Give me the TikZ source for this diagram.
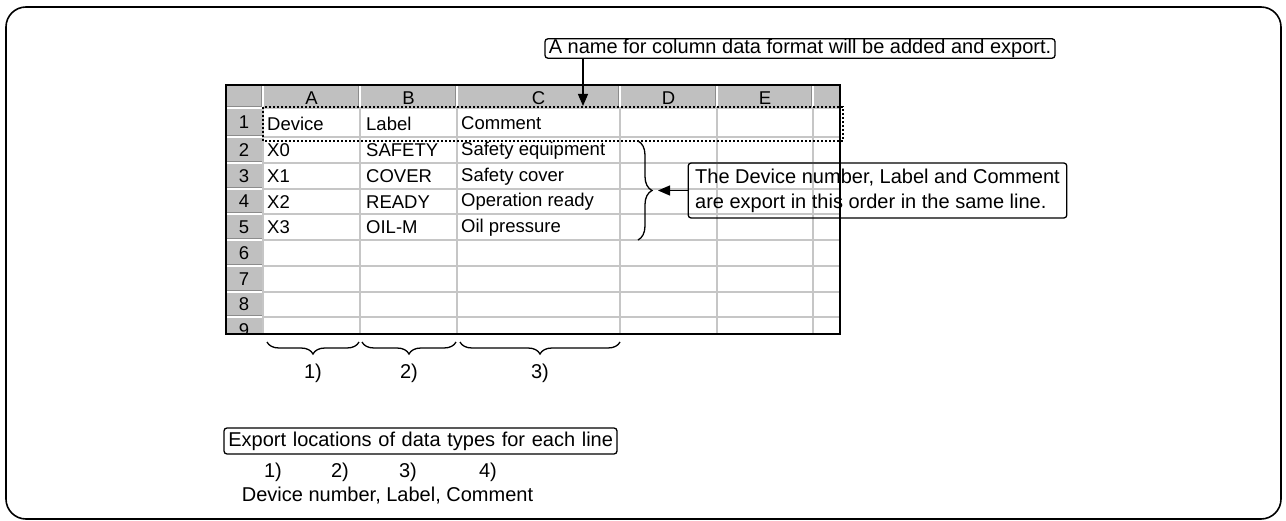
\documentclass[tikz,border=0pt]{standalone}
\usepackage{fontspec}
\setmainfont{Liberation Sans}
\usetikzlibrary{arrows.meta,decorations.pathreplacing}

\definecolor{hdrgray}{HTML}{C0C0C0}
\definecolor{gridgray}{HTML}{C6C6C6}

\tikzset{
  callout/.style={draw, line width=1.3pt, rounded corners=3pt, font=\fontsize{20}{25}\selectfont},
  oneline/.style={text height=14.5pt, text depth=4pt},
  cell/.style={anchor=west, inner sep=0pt, font=\fontsize{18.5}{20}\selectfont},
  hdr/.style={inner sep=0pt, font=\fontsize{18.5}{20}\selectfont},
  plain/.style={inner sep=0pt, font=\fontsize{20}{25}\selectfont},
  pointer/.style={line width=1.3pt, -{Triangle[length=12pt,width=10pt]}},
  underbrace/.style={line width=1.3pt, decorate, decoration={brace,mirror,amplitude=12pt}},
  sidebrace/.style={line width=1.3pt, decorate, decoration={brace,amplitude=14pt}},
  gridline/.style={gridgray, line width=1.5pt},
  dotline/.style={line width=2pt, dash pattern=on 2pt off 2pt},
}

\begin{document}
\begin{tikzpicture}[x=1pt,y=-1pt]
\useasboundingbox (0,0) rectangle (1286,521);
\draw[line width=1.6pt, rounded corners=20pt] (6,7) rectangle (1281,519);

% sheet
\fill[hdrgray] (226,85) rectangle (840,108);
\fill[hdrgray] (226,108) rectangle (263,334);
\foreach \y in {108,137,163,189,214,240,266,292,317}
  \draw[gridline] (263,\y) -- (840,\y);
\foreach \x in {263,360,457,620,717,813}
  \draw[gridline] (\x,108) -- (\x,334);
\foreach \x in {263,360,457,620,717,813} {
  \draw[black!45, line width=1pt] (\x-1.5,86) -- (\x-1.5,107);
  \draw[white, line width=1.2pt] (\x,86) -- (\x,107);
}
\foreach \y in {108,137,163,189,214,240,266,292,317} {
  \draw[black!45, line width=1pt] (227,\y-1.5) -- (262,\y-1.5);
  \draw[white, line width=1.2pt] (227,\y) -- (262,\y);
}
\draw[line width=2pt] (226,85) rectangle (840,334);

\foreach \c/\x in {A/311.5,B/408.5,C/538.5,D/668.5,E/765}
  \node[hdr] (col\c) at (\x,98.5) {\c};
\begin{scope}
  \clip (226,85) rectangle (840,334);
  \foreach \n/\y in {1/122.5,2/150,3/176,4/201.5,5/227,6/253,7/279,8/304.5,9/330}
    \node[hdr] (row\n) at (244,\y) {\n};
\end{scope}
\foreach \y/\a/\b/\c [count=\r] in {123.5/Device/Label/Comment,
    150.5/X0/SAFETY/Safety equipment, 176.5/X1/COVER/Safety cover,
    202/X2/READY/Operation ready, 227.5/X3/OIL-M/Oil pressure} {
  \node[cell] (dev\r) at (267,\y) {\a};
  \node[cell] (lab\r) at (366,\y) {\b};
  \node[cell] (com\r) at (461,\y) {\c};
}
\draw[dotline] (263,107) rectangle (843,141);

% column name callout
\node[callout, oneline, inner xsep=3pt, inner ysep=0.5pt, minimum width=510pt] (namebox) at (800,48.5)
  {A name for column data format will be added and export.};
\coordinate (hdrtip) at (583,106);
\draw[pointer] (hdrtip |- namebox.south) -- (hdrtip);

% line order callout
\coordinate (rowstop) at (638,141);
\coordinate (rowsbot) at (638,240);
\draw[sidebrace] (rowstop) -- (rowsbot);
\node[callout, align=left, inner xsep=7pt, minimum height=55pt] (orderbox) at (877.5,190.5)
  {The Device number, Label and Comment\\are export in this order in the same line.};
\coordinate (bracetip) at (658,190.5);
\draw[pointer] (orderbox.west) -- (bracetip);

% column braces
\coordinate (c1l) at (267,342);
\coordinate (c1r) at (359,342);
\coordinate (c2l) at (362,342);
\coordinate (c2r) at (456,342);
\coordinate (c3l) at (460,342);
\coordinate (c3r) at (620,342);
\draw[underbrace] (c1l) -- (c1r);
\draw[underbrace] (c2l) -- (c2r);
\draw[underbrace] (c3l) -- (c3r);
\node[plain] (grp1) at (313,373) {1)};
\node[plain] (grp2) at (409,373) {2)};
\node[plain] (grp3) at (540,373) {3)};

% export order note
\node[callout, oneline, text width=385pt, align=right, inner xsep=4pt, inner ysep=3.75pt] (locbox) at (420.5,441)
  {Export locations of data types for each line};
\node[plain] (pos1) at (273,472) {1)};
\node[plain] (pos2) at (340,472) {2)};
\node[plain] (pos3) at (408,472) {3)};
\node[plain] (pos4) at (488,472) {4)};
\node[plain] (posnames) at (387.5,496) {Device number, Label, Comment};
\end{tikzpicture}
\end{document}
